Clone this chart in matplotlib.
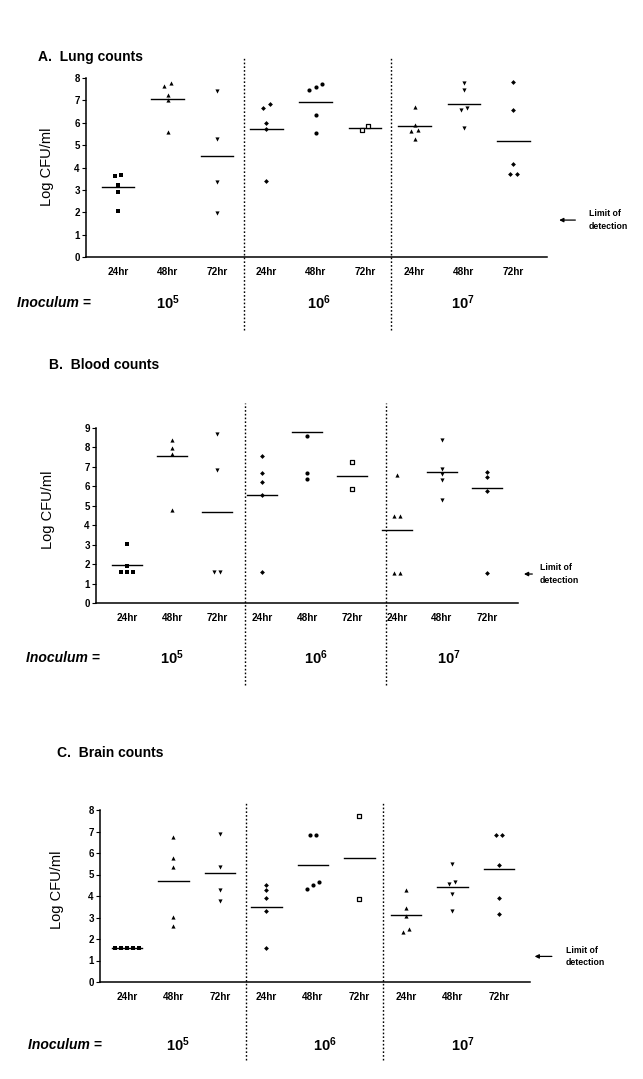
import matplotlib.pyplot as plt

plt.rcParams['font.family'] = ['Liberation Sans', 'DejaVu Sans']
plt.rcParams['mathtext.fontset'] = 'custom'
plt.rcParams['mathtext.rm'] = 'Liberation Sans'
plt.rcParams['mathtext.bf'] = 'Liberation Sans:bold'

# groups: 10^5 (24, 48, 72hr), 10^6 (24, 48, 72hr), 10^7 (24, 48, 72hr)
times = ['24hr', '48hr', '72hr'] * 3
inocula = ['5', '6', '7']
markers = ['s', '^', 'v', 'D', 'o', 's', '^', 'v', 'D']
open_marker = [False, False, False, False, False, True, False, False, False]

# A. Lung counts (log CFU/ml)
lung_vals = [
    [3.68, 3.61, 3.23, 2.91, 2.07],
    [7.78, 7.66, 7.26, 7.02, 5.59],
    [7.41, 5.28, 3.37, 1.95],
    [6.84, 6.66, 5.99, 5.74, 3.40],
    [7.72, 7.60, 7.47, 6.35, 5.54],
    [5.84, 5.69],
    [6.71, 5.92, 5.69, 5.62, 5.28],
    [7.78, 7.45, 6.66, 6.59, 5.77],
    [7.84, 6.59, 4.17, 3.70, 3.70],
]
lung_means = [3.11, 7.05, 4.50, 5.72, 6.94, 5.75, 5.84, 6.86, 5.20]

# B. Blood counts
blood_vals = [
    [3.03, 1.92, 1.58, 1.58, 1.58],
    [8.37, 7.95, 7.68, 4.80],
    [8.71, 6.86, 1.58, 1.58],
    [7.58, 6.69, 6.24, 5.54, 1.58],
    [8.57, 6.69, 6.38],
    [7.27, 5.86],
    [6.60, 4.46, 4.46, 1.56, 1.56],
    [8.40, 6.91, 6.65, 6.31, 5.31],
    [6.72, 6.46, 5.74, 1.56],
]
blood_means = [1.94, 7.58, 4.66, 5.54, 8.78, 6.55, 3.75, 6.72, 5.91]

# C. Brain counts
brain_vals = [
    [1.58, 1.58, 1.58, 1.58, 1.58],
    [6.73, 5.77, 5.37, 3.02, 2.62],
    [6.87, 5.37, 4.26, 3.75],
    [4.49, 4.26, 3.90, 3.31, 1.56],
    [6.84, 6.84, 4.67, 4.50, 4.33],
    [7.72, 3.85],
    [4.29, 3.42, 3.05, 2.46, 2.34],
    [5.48, 4.64, 4.55, 4.09, 3.28],
    [6.86, 6.86, 5.43, 3.89, 3.17],
]
brain_means = [1.58, 4.69, 5.05, 3.50, 5.42, 5.79, 3.13, 4.40, 5.25]

W, H = 643, 1079


def dodge(vals, tol=0.2, step=0.13):
    # spread points with (nearly) equal values side by side
    order = sorted(range(len(vals)), key=lambda i: vals[i])
    offs = [0.0] * len(vals)
    clusters = []
    for i in order:
        if clusters and vals[i] - vals[clusters[-1][-1]] < tol:
            clusters[-1].append(i)
        else:
            clusters.append([i])
    for c in clusters:
        for k, i in enumerate(c):
            offs[i] = (k - (len(c) - 1) / 2) * step
    return offs


def panel(fig, box, xlim, ymax, vals, means, seps, sep_span, lod, title, title_xy,
          ylab_xy, inoc_y, inoc_x, inoc_lbl_x):
    left, right, bottom, top = box
    ax = fig.add_axes([left / W, 1 - bottom / H, (right - left) / W, (bottom - top) / H])
    for g, v in enumerate(vals):
        x0 = g + 1
        offs = dodge(v)
        xs = [x0 + o for o in offs]
        if open_marker[g]:
            ax.scatter(xs, v, marker=markers[g], s=11, facecolors='white',
                       edgecolors='black', linewidths=0.9, zorder=3)
        else:
            sz = 6 if markers[g] == 'D' else 9
            ax.scatter(xs, v, marker=markers[g], s=sz, color='black', linewidths=0, zorder=3)
        ax.plot([x0 - 0.33, x0 + 0.33], [means[g], means[g]], color='black', lw=1.0, zorder=2)

    for s in seps:
        ax.axvline(s, ymin=sep_span[0], ymax=sep_span[1], color='black', lw=1.0,
                   ls=(0, (1.2, 1.5)), clip_on=False)

    ax.set_xlim(*xlim)
    ax.set_ylim(0, ymax)
    ax.set_yticks(range(0, ymax + 1))
    ax.set_xticks(range(1, 10))
    ax.set_xticklabels(times, fontsize=7.2, fontweight='bold')
    for lbl in ax.get_yticklabels():
        lbl.set_fontsize(7)
        lbl.set_fontweight('bold')
    ax.tick_params(axis='x', length=0, pad=7)
    ax.tick_params(axis='y', length=3, width=0.8, pad=1.5)
    ax.spines['top'].set_visible(False)
    ax.spines['right'].set_visible(False)
    ax.spines['left'].set_linewidth(1.1)
    ax.spines['bottom'].set_linewidth(1.1)

    # limit of detection
    ly, ax0, ax1, tx = lod
    ax.annotate('', xy=(ax1, ly), xytext=(ax0, ly), annotation_clip=False,
                arrowprops=dict(arrowstyle='-|>', color='black', lw=0.9,
                                mutation_scale=6))
    ax.text(tx, ly, 'Limit of\ndetection', fontsize=6.3, fontweight='bold',
            va='center', ha='left', linespacing=1.5, clip_on=False)

    fig.text(title_xy[0] / W, 1 - title_xy[1] / H, title, fontsize=10,
             fontweight='bold', va='center', ha='left')
    fig.text(ylab_xy[0] / W, 1 - ylab_xy[1] / H, 'Log CFU/ml', fontsize=10.5,
             rotation=90, va='center', ha='center')
    fig.text(inoc_x / W, 1 - inoc_y / H, 'Inoculum =', fontsize=10,
             fontweight='bold', style='italic', va='center', ha='left')
    for px, p in zip(inoc_lbl_x, inocula):
        fig.text(px / W, 1 - inoc_y / H, r'$\mathbf{10^{%s}}$' % p, fontsize=10.5,
                 va='center', ha='center')
    return ax


fig = plt.figure(figsize=(6.43, 10.79), dpi=100)

panel(fig, (86, 547, 257, 78), (0.35, 9.68), 8, lung_vals, lung_means,
      [3.55, 6.53], (-0.41, 1.117), (1.65, 10.31, 9.87, 10.53),
      'A.  Lung counts', (38, 57), (47, 167), 303, 17, [168, 319, 463])

panel(fig, (96, 518, 603, 428), (0.31, 9.69), 9, blood_vals, blood_means,
      [3.62, 6.76], (-0.47, 1.143), (1.49, 10.07, 9.76, 10.18),
      'B.  Blood counts', (49, 365), (48, 510), 658, 26, [172, 316, 449])

panel(fig, (100, 530, 982, 810), (0.42, 9.67), 8, brain_vals, brain_means,
      [3.56, 6.50], (-0.453, 1.047), (1.19, 10.20, 9.71, 10.44),
      'C.  Brain counts', (57, 753), (57, 890), 1045, 28, [178, 325, 463])

fig.savefig('out.png', dpi=100)
